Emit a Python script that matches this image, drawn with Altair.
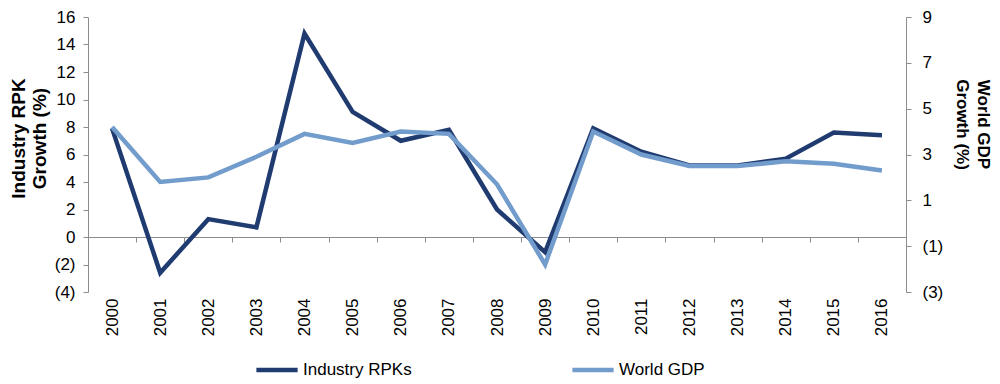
import altair as alt
import pandas as pd

years = [str(y) for y in range(2000, 2017)]
rpk = [7.9, -2.6, 1.3, 0.7, 14.8, 9.1, 7.0, 7.8, 2.0, -1.1, 7.9, 6.2, 5.2, 5.2, 5.7, 7.6, 7.4]
gdp = [4.2, 1.8, 2.0, 2.9, 3.9, 3.5, 4.0, 3.9, 1.7, -1.8, 4.0, 3.0, 2.5, 2.5, 2.7, 2.6, 2.3]

series_names = ["Industry RPKs", "World GDP"]
series_colors = ["#1F3B70", "#729CCB"]
left_ticks = list(range(-4, 17, 2))
right_ticks = [-3, -1, 1, 3, 5, 7, 9]

df = pd.DataFrame({
    "year": years * 2,
    "value": rpk + gdp,
    "series": [series_names[0]] * len(years) + [series_names[1]] * len(years),
})

FONT = "Liberation Sans"
GRAY = "#8C8C8C"
neg_expr = "datum.value < 0 ? '(' + abs(datum.value) + ')' : datum.label"

color = alt.Color(
    "series:N",
    scale=alt.Scale(domain=series_names, range=series_colors),
    legend=alt.Legend(
        title=None, orient="none", direction="horizontal",
        legendX=166, legendY=330,
        symbolType="stroke", symbolSize=1700, symbolStrokeWidth=4.5,
        labelFontSize=17, labelFont=FONT, labelColor="#000000",
        labelOffset=3, columnPadding=151, padding=0,
    ),
)

xenc = alt.X(
    "year:O",
    scale=alt.Scale(type="band", paddingInner=0, paddingOuter=0),
    sort=years,
    axis=alt.Axis(
        title=None, labelAngle=-90, labelAlign="right", labelBaseline="middle",
        offset=-55, tickBand="extent", tickSize=5, labelPadding=56,
        domainColor=GRAY, tickColor=GRAY, labelFontSize=17, labelFont=FONT,
        labelColor="#000000",
    ),
)

left = alt.Chart(df).transform_filter(
    alt.datum.series == series_names[0]
).mark_line(strokeWidth=4.5, strokeJoin="miter").encode(
    x=xenc,
    y=alt.Y(
        "value:Q",
        scale=alt.Scale(domain=[-4, 16], nice=False, zero=False),
        axis=alt.Axis(
            values=left_ticks, title=["Industry RPK", "Growth (%)"],
            titleFontSize=19, titleLineHeight=21, titleFontWeight="bold", titleFont=FONT,
            titlePadding=5, titleY=121, labelExpr=neg_expr, grid=False,
            domainColor=GRAY, tickColor=GRAY, tickSize=5, labelPadding=8,
            labelFontSize=17, labelFont=FONT, labelColor="#000000",
            titleColor="#000000",
        ),
    ),
    color=color,
)

right = alt.Chart(df).transform_filter(
    alt.datum.series == series_names[1]
).mark_line(strokeWidth=4.5, strokeJoin="miter").encode(
    x=xenc,
    y=alt.Y(
        "value:Q",
        scale=alt.Scale(domain=[-3, 9], nice=False, zero=False),
        axis=alt.Axis(
            orient="right", values=right_ticks, title=["World GDP", "Growth (%)"],
            titleAngle=90, titleFontSize=17, titleLineHeight=21, titleFontWeight="bold",
            titleFont=FONT, titlePadding=10, titleY=107, labelExpr=neg_expr, grid=False,
            domainColor=GRAY, tickColor=GRAY, tickSize=5, labelPadding=11,
            labelFontSize=17, labelFont=FONT, labelColor="#000000",
            titleColor="#000000",
        ),
    ),
    color=color,
)

chart = alt.layer(left, right).resolve_scale(y="independent").properties(
    width=818, height=275,
    autosize=alt.AutoSizeParams(type="none"),
    padding={"left": 80, "top": 9, "right": 86, "bottom": 100},
).configure_view(stroke=None)

chart.save("out.html", embed_options={"renderer": "svg", "actions": False})
